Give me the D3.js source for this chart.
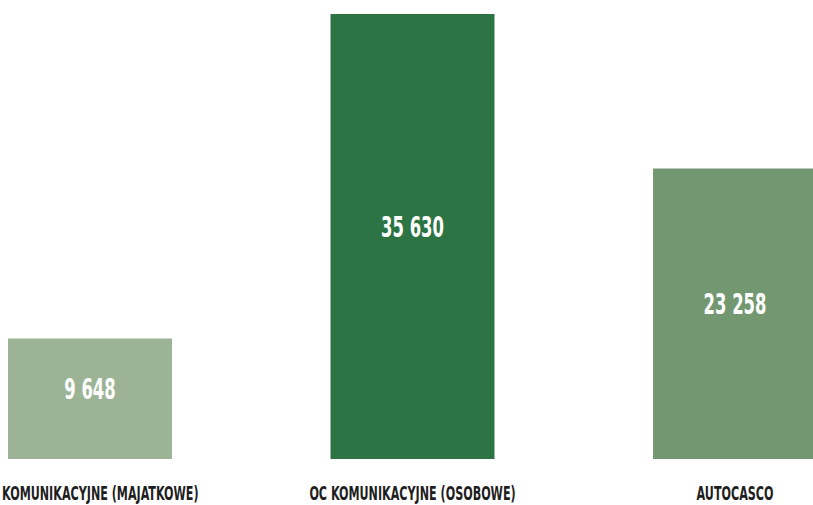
<!DOCTYPE html>
<html>
<head>
<meta charset="utf-8">
<script src="https://cdn.jsdelivr.net/npm/d3@7"></script>
<style>
  html, body { margin: 0; padding: 0; background: #fff; overflow: hidden; }
  svg { display: block; }
  .value { font-family: 'Liberation Sans Narrow', 'DejaVu Sans Condensed', sans-serif; font-weight: bold; fill: #fff; }
  .cat { font-family: 'Liberation Sans Narrow', 'DejaVu Sans Condensed', sans-serif; font-weight: bold; fill: #1e1e1e; }
</style>
</head>
<body>
<div id="app"></div>
<script>
let categories = ['KOMUNIKACYJNE (MAJATKOWE)', 'OC KOMUNIKACYJNE (OSOBOWE)', 'AUTOCASCO']
let values = [9648, 35630, 23258]
let barColors = ['#9db396', '#2c7444', '#739871']

let width = 813
let height = 505

let svg = d3.select('#app')
  .append('svg')
  .attr('width', width)
  .attr('height', height)

let x = d3.scaleBand()
  .domain(categories)
  .range([8, 817])
  .paddingInner(0.4916)
  .paddingOuter(0)

let y = d3.scaleLinear()
  .domain([0, d3.max(values)])
  .range([459, 14])

let fmt = v => d3.format(',')(v).replace(/,/g, ' ')

let data = categories.map((c, i) => ({ cat: c, value: values[i], color: barColors[i] }))

svg.selectAll('rect.bar')
  .data(data)
  .enter()
  .append('rect')
  .attr('class', 'bar')
  .attr('x', d => x(d.cat))
  .attr('y', d => y(d.value))
  .attr('width', x.bandwidth())
  .attr('height', d => y(0) - y(d.value))
  .attr('fill', d => d.color)

let valueScale = 0.63
svg.selectAll('text.value')
  .data(data)
  .enter()
  .append('text')
  .attr('class', 'value')
  .attr('text-anchor', 'middle')
  .attr('font-size', 29)
  .attr('transform', d => `translate(${x(d.cat) + x.bandwidth() / 2}, ${(y(d.value) + y(0)) / 2}) scale(${valueScale}, 1)`)
  .text(d => fmt(d.value))

// category labels, squeezed and kept inside the picture
let catScale = 0.62
svg.selectAll('text.cat')
  .data(data)
  .enter()
  .append('text')
  .attr('class', 'cat')
  .attr('text-anchor', 'middle')
  .attr('font-size', 20)
  .text(d => d.cat)
  .attr('transform', function (d) {
    let w = this.getComputedTextLength() * catScale
    let cx = x(d.cat) + x.bandwidth() / 2
    cx = Math.max(cx, 2 + w / 2)
    cx = Math.min(cx, width - 2 - w / 2)
    return `translate(${cx}, 500) scale(${catScale}, 1)`
  })
</script>
</body>
</html>
